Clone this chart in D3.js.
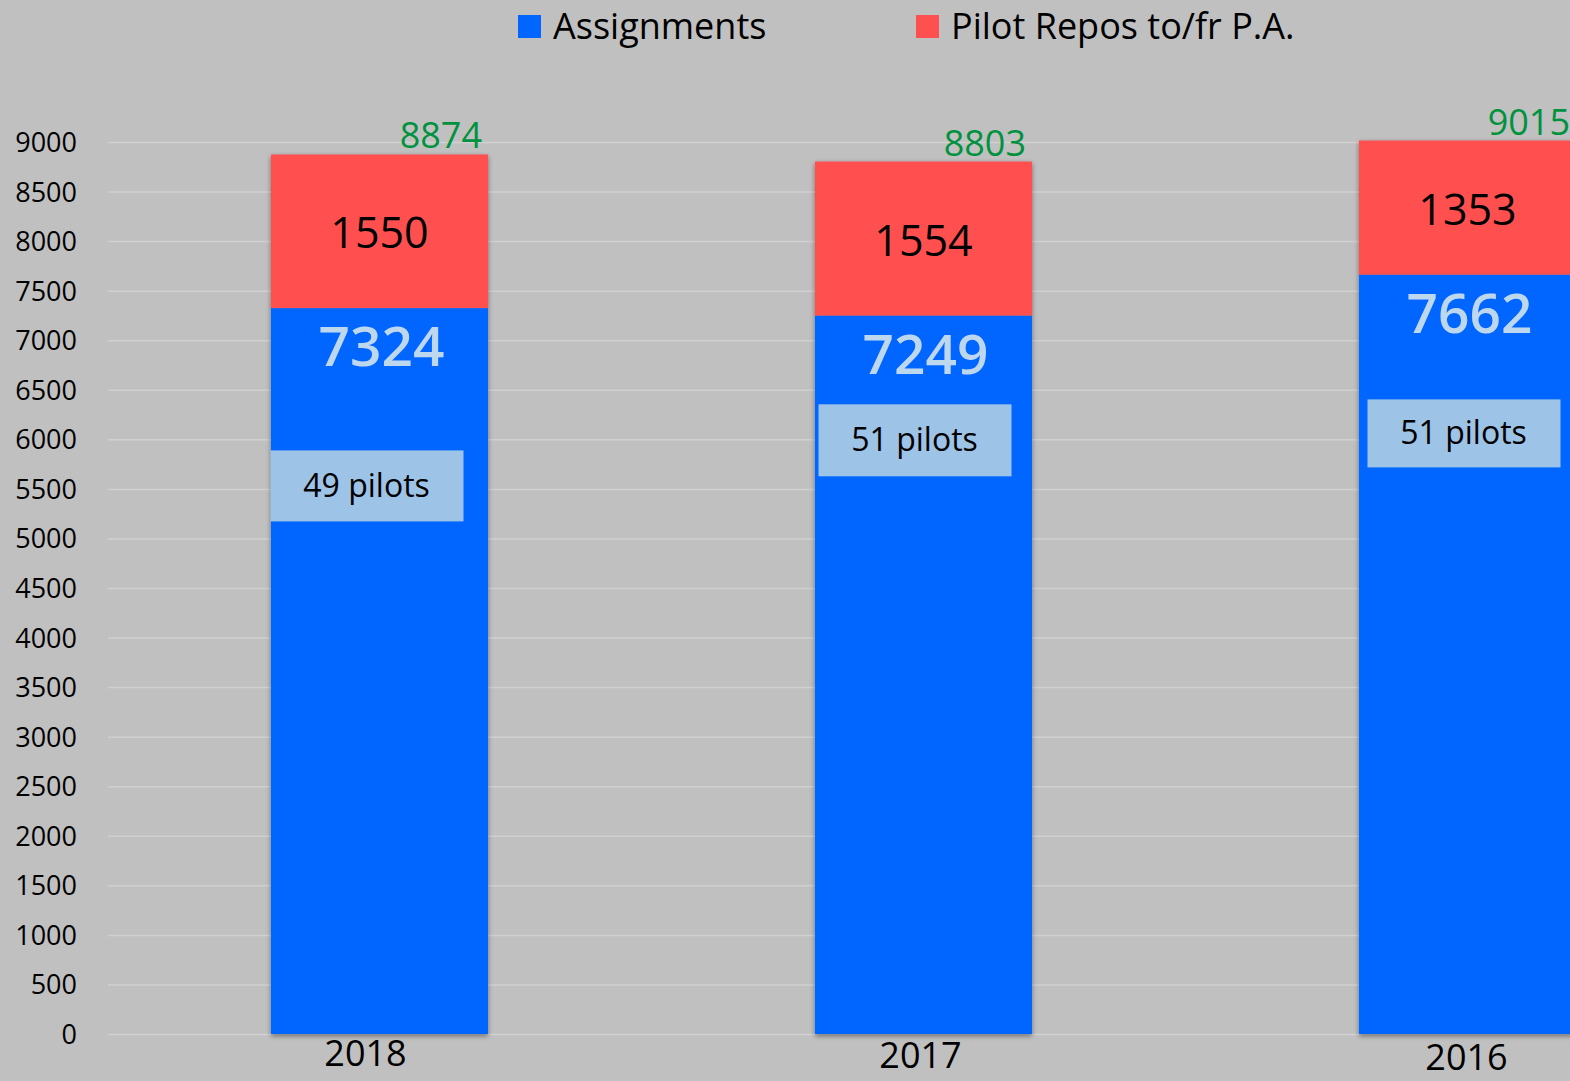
<!DOCTYPE html>
<html>
<head>
<meta charset="utf-8">
<script src="https://cdn.jsdelivr.net/npm/d3@7"></script>
<style>
  html, body { margin: 0; padding: 0; background: #C0C0C0; overflow: hidden; }
  text { font-family: "Open Sans", sans-serif; }
</style>
</head>
<body>
<svg id="chart" width="1570" height="1081"></svg>
<script>
// data
let years       = ["2018", "2017", "2016"];
let assignments = [7324, 7249, 7662];
let repos       = [1550, 1554, 1353];
let totals      = [8874, 8803, 9015];
let pilots      = ["49 pilots", "51 pilots", "51 pilots"];
let yTicks      = d3.range(0, 9001, 500);
let seriesNames = ["Assignments", "Pilot Repos to/fr P.A."];

let clrBlue  = "#0066FF";
let clrRed   = "#FF5050";
let clrGreen = "#00923F";
let clrPale  = "#BDD7EE";
let clrBox   = "#9DC3E6";

// layout bits for the text boxes (not data)
let boxCenterVal = [5530, 5990, 6060];
let boxShift     = [-13, -9, -4];
let boxHeight    = [71, 72, 68];
let yearShift    = [-14, -3, -1];
let yearBase     = [1066, 1068, 1070];

let svg = d3.select("#chart");

let defs = svg.append("defs");
let shadow = defs.append("filter")
    .attr("id", "barShadow")
    .attr("x", "-10%").attr("y", "-10%")
    .attr("width", "120%").attr("height", "120%");
shadow.append("feDropShadow")
    .attr("dx", 0).attr("dy", 2)
    .attr("stdDeviation", 2.5)
    .attr("flood-color", "#000000")
    .attr("flood-opacity", 0.45);

let y = d3.scaleLinear().domain([0, 9000]).range([1034, 142]);
let x = d3.scaleBand().domain(years).range([107.5, 1739.5])
    .paddingInner(0.601).paddingOuter(0.3005);

// gridlines
svg.append("g")
    .selectAll("line")
    .data(yTicks)
    .enter()
        .append("line")
            .attr("x1", 108)
            .attr("x2", 1570)
            .attr("y1", d => y(d) + 0.5)
            .attr("y2", d => y(d) + 0.5)
            .attr("stroke", "#D0D0D0")
            .attr("stroke-width", 1.5);

// y axis labels
svg.append("g")
    .selectAll("text")
    .data(yTicks)
    .enter()
        .append("text")
            .attr("x", 77)
            .attr("y", d => y(d) + 10)
            .attr("text-anchor", "end")
            .style("font-size", "27px")
            .attr("fill", "#000")
            .text(d => d);

let rows = years.map((yr, i) => ({
    year: yr, a: assignments[i], r: repos[i], t: totals[i], p: pilots[i], i: i
}));

// stacked bars
let bars = svg.append("g").attr("filter", "url(#barShadow)");
bars.selectAll("rect.asg")
    .data(rows)
    .enter()
        .append("rect")
            .attr("class", "asg")
            .attr("x", d => x(d.year))
            .attr("width", x.bandwidth())
            .attr("y", d => y(d.a))
            .attr("height", d => y(0) - y(d.a))
            .attr("fill", clrBlue);
bars.selectAll("rect.rep")
    .data(rows)
    .enter()
        .append("rect")
            .attr("class", "rep")
            .attr("x", d => x(d.year))
            .attr("width", x.bandwidth())
            .attr("y", d => y(d.a + d.r))
            .attr("height", d => y(d.a) - y(d.a + d.r))
            .attr("fill", clrRed);

let labels = svg.append("g");

// repos value in red segment
labels.selectAll("text.rep")
    .data(rows)
    .enter()
        .append("text")
            .attr("x", d => x(d.year) + x.bandwidth() / 2)
            .attr("y", d => (y(d.a) + y(d.a + d.r)) / 2 + 17)
            .attr("text-anchor", "middle")
            .style("font-size", "43px")
            .attr("fill", "#000")
            .text(d => d.r);

// assignments value
labels.selectAll("text.asg")
    .data(rows)
    .enter()
        .append("text")
            .attr("x", d => x(d.year) + x.bandwidth() / 2 + 2)
            .attr("y", d => y(d.a) + 58)
            .attr("text-anchor", "middle")
            .style("font-size", "55px")
            .style("font-weight", "600")
            .attr("fill", clrPale)
            .text(d => d.a);

// totals in green
labels.selectAll("text.tot")
    .data(rows)
    .enter()
        .append("text")
            .attr("x", d => x(d.year) + x.bandwidth() - 6)
            .attr("y", d => y(d.t) - 6)
            .attr("text-anchor", "end")
            .style("font-size", "36px")
            .attr("fill", clrGreen)
            .text(d => d.t);

// pilot boxes
let boxes = labels.selectAll("g.box")
    .data(rows)
    .enter()
        .append("g")
            .attr("class", "box")
            .attr("transform", d => "translate(" + (x(d.year) + x.bandwidth() / 2 + boxShift[d.i]) + "," + y(boxCenterVal[d.i]) + ")");
boxes.append("rect")
    .attr("x", -96)
    .attr("width", 193)
    .attr("y", d => -boxHeight[d.i] / 2)
    .attr("height", d => boxHeight[d.i])
    .attr("fill", clrBox);
boxes.append("text")
    .attr("x", 0)
    .attr("y", 11)
    .attr("text-anchor", "middle")
    .style("font-size", "32px")
    .attr("fill", "#000")
    .text(d => d.p);

// year labels
labels.selectAll("text.yr")
    .data(rows)
    .enter()
        .append("text")
            .attr("x", d => x(d.year) + x.bandwidth() / 2 + yearShift[d.i])
            .attr("y", d => yearBase[d.i])
            .attr("text-anchor", "middle")
            .style("font-size", "36px")
            .attr("fill", "#000")
            .text(d => d.year);

// legend
let legendX = [518, 916];
let legendClr = [clrBlue, clrRed];
let lg = svg.append("g")
    .selectAll("g")
    .data(seriesNames)
    .enter()
        .append("g")
            .attr("transform", (d, i) => "translate(" + legendX[i] + ",0)");
lg.append("rect")
    .attr("x", 0).attr("y", 15)
    .attr("width", 23).attr("height", 23)
    .attr("fill", (d, i) => legendClr[i]);
lg.append("text")
    .attr("x", 35)
    .attr("y", 39)
    .style("font-size", "36px")
    .attr("fill", "#000")
    .text(d => d);
</script>
</body>
</html>
